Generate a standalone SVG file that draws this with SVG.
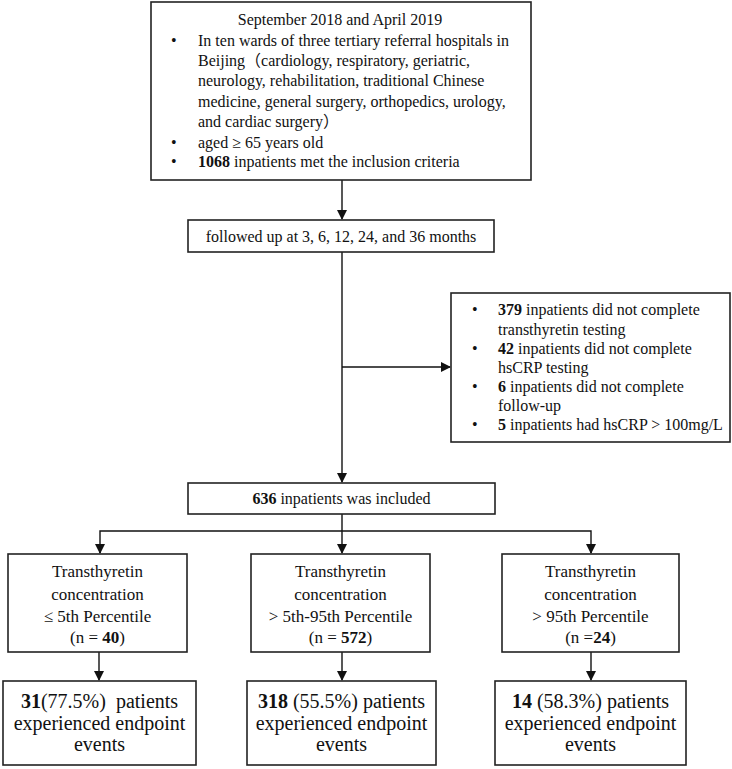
<svg xmlns="http://www.w3.org/2000/svg" width="732" height="769" viewBox="0 0 732 769">
<defs>
<marker id="ah" markerUnits="userSpaceOnUse" markerWidth="10" markerHeight="12" refX="9" refY="5" orient="auto">
<path d="M0,0 L10,5 L0,10 Z" fill="#111"/>
</marker>
<style>
.box{fill:#fff;stroke:#222;stroke-width:1.6}
.t{font-family:"Liberation Serif","Noto Sans CJK SC",serif;fill:#111}
.s16{font-size:16px}
.s17{font-size:17px}
.s20{font-size:20px}
.c{text-anchor:middle}
.b{font-weight:bold}
.ln{stroke:#111;stroke-width:1.4;fill:none}
</style>
</defs>
<rect width="732" height="769" fill="#fff"/>
<g id="connectors">
<line class="ln" x1="342" y1="180" x2="342" y2="219" marker-end="url(#ah)"/>
<line class="ln" x1="342" y1="252" x2="342" y2="482" marker-end="url(#ah)"/>
<line class="ln" x1="342" y1="367" x2="450" y2="367" marker-end="url(#ah)"/>
<line class="ln" x1="342" y1="514" x2="342" y2="553" marker-end="url(#ah)"/>
<polyline class="ln" points="100,553 100,531 591,531 591,553"/>
<line class="ln" x1="100" y1="545" x2="100" y2="553" marker-end="url(#ah)"/>
<line class="ln" x1="591" y1="545" x2="591" y2="553" marker-end="url(#ah)"/>
<line class="ln" x1="99" y1="652" x2="99" y2="680" marker-end="url(#ah)"/>
<line class="ln" x1="342" y1="652" x2="342" y2="680" marker-end="url(#ah)"/>
<line class="ln" x1="591" y1="652" x2="591" y2="680" marker-end="url(#ah)"/>
</g>
<g id="n-start">
<rect class="box" x="151" y="2" width="380" height="178"/>
<text class="t s16 c" x="340" y="25">September 2018 and April 2019</text>
<text class="t s16" x="171" y="45.5">•</text>
<text class="t s16" x="198" y="45.5">In ten wards of three tertiary referral hospitals in</text>
<text class="t s16" x="198" y="66">Beijing（cardiology, respiratory, geriatric,</text>
<text class="t s16" x="198" y="86">neurology, rehabilitation, traditional Chinese</text>
<text class="t s16" x="198" y="106.5">medicine, general surgery, orthopedics, urology,</text>
<text class="t s16" x="198" y="127">and cardiac surgery）</text>
<text class="t s16" x="171" y="147.5">•</text>
<text class="t s16" x="198" y="147.5">aged ≥ 65 years old</text>
<text class="t s16" x="171" y="167">•</text>
<text class="t s16" x="198" y="167"><tspan class="b">1068</tspan> inpatients met the inclusion criteria</text>
</g>
<g id="n-followup">
<rect class="box" x="188" y="220" width="306" height="32"/>
<text class="t s16 c" x="341" y="242">followed up at 3, 6, 12, 24, and 36 months</text>
</g>
<g id="n-excluded">
<rect class="box" x="451" y="293" width="279" height="149"/>
<text class="t s16" x="472" y="315">•</text>
<text class="t s16" x="498" y="315"><tspan class="b">379</tspan> inpatients did not complete</text>
<text class="t s16" x="498" y="334.5">transthyretin testing</text>
<text class="t s16" x="472" y="353.5">•</text>
<text class="t s16" x="498" y="353.5"><tspan class="b">42</tspan> inpatients did not complete</text>
<text class="t s16" x="498" y="373">hsCRP testing</text>
<text class="t s16" x="472" y="392">•</text>
<text class="t s16" x="498" y="392"><tspan class="b">6</tspan> inpatients did not complete</text>
<text class="t s16" x="498" y="411">follow-up</text>
<text class="t s16" x="472" y="430">•</text>
<text class="t s16" x="498" y="430"><tspan class="b">5</tspan> inpatients had hsCRP &gt; 100mg/L</text>
</g>
<g id="n-included">
<rect class="box" x="188" y="483" width="307" height="31"/>
<text class="t s16 c" x="341.5" y="504"><tspan class="b">636</tspan> inpatients was included</text>
</g>
<g id="n-low">
<rect class="box" x="8" y="554" width="179" height="98"/>
<text class="t s17 c" x="97.5" y="577">Transthyretin</text>
<text class="t s17 c" x="97.5" y="600">concentration</text>
<text class="t s17 c" x="97.5" y="622">≤ 5th Percentile</text>
<text class="t s17 c" x="97.5" y="643">(n = <tspan class="b">40</tspan>)</text>
</g>
<g id="n-mid">
<rect class="box" x="251" y="554" width="179" height="98"/>
<text class="t s17 c" x="340.5" y="577">Transthyretin</text>
<text class="t s17 c" x="340.5" y="600">concentration</text>
<text class="t s17 c" x="340.5" y="622">&gt; 5th-95th Percentile</text>
<text class="t s17 c" x="340.5" y="643">(n = <tspan class="b">572</tspan>)</text>
</g>
<g id="n-high">
<rect class="box" x="502" y="554" width="177" height="98"/>
<text class="t s17 c" x="590.5" y="577">Transthyretin</text>
<text class="t s17 c" x="590.5" y="600">concentration</text>
<text class="t s17 c" x="590.5" y="622">&gt; 95th Percentile</text>
<text class="t s17 c" x="590.5" y="643">(n =<tspan class="b">24</tspan>)</text>
</g>
<g id="n-out-low">
<rect class="box" x="3" y="681" width="193" height="84"/>
<text class="t s20 c" x="99.5" y="708" xml:space="preserve"><tspan class="b">31</tspan>(77.5%)  patients</text>
<text class="t s20 c" x="99.5" y="730">experienced endpoint</text>
<text class="t s20 c" x="99.5" y="751">events</text>
</g>
<g id="n-out-mid">
<rect class="box" x="247" y="681" width="189" height="84"/>
<text class="t s20 c" x="341.5" y="708"><tspan class="b">318</tspan> (55.5%) patients</text>
<text class="t s20 c" x="341.5" y="730">experienced endpoint</text>
<text class="t s20 c" x="341.5" y="751">events</text>
</g>
<g id="n-out-high">
<rect class="box" x="495" y="681" width="191" height="84"/>
<text class="t s20 c" x="590.5" y="708"><tspan class="b">14</tspan> (58.3%) patients</text>
<text class="t s20 c" x="590.5" y="730">experienced endpoint</text>
<text class="t s20 c" x="590.5" y="751">events</text>
</g>
</svg>
